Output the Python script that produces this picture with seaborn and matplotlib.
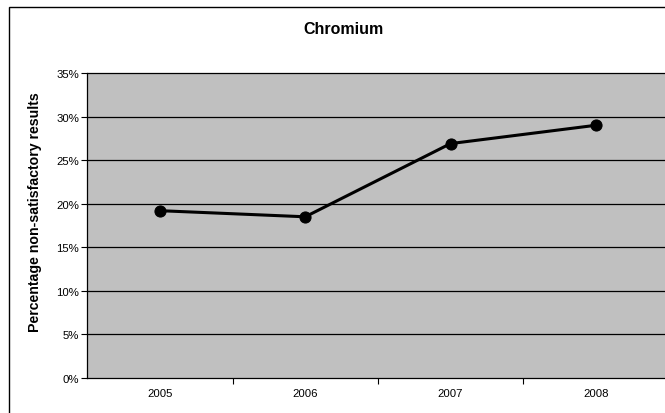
import matplotlib
matplotlib.use("Agg")
import matplotlib.pyplot as plt
import matplotlib.patches as patches
import seaborn as sns
import pandas as pd

# Data
years = ["2005", "2006", "2007", "2008"]
pct_nonsat = [19.2, 18.5, 26.9, 29.0]
y_ticks = [0, 5, 10, 15, 20, 25, 30, 35]

df = pd.DataFrame({"year": years, "pct": pct_nonsat})
df["pos"] = range(len(years))

sns.set_style("white")
plt.rcParams["font.family"] = ["Liberation Sans", "DejaVu Sans"]
plt.rcParams["text.color"] = "black"
plt.rcParams["xtick.color"] = "black"
plt.rcParams["ytick.color"] = "black"
plt.rcParams["xtick.labelcolor"] = "black"
plt.rcParams["ytick.labelcolor"] = "black"

fig = plt.figure(figsize=(6.65, 4.14), dpi=100)
ax = fig.add_axes([87.3 / 665, 35 / 414, (668.5 - 87.3) / 665, (379 - 74) / 414])

# outer chart border (cut off on right and bottom)
fig.patches.append(patches.Rectangle((9 / 665, -0.05), 1.0, 1 - 8 / 414 + 0.05,
                                     transform=fig.transFigure, fill=False,
                                     edgecolor="black", linewidth=1.0))

ax.set_facecolor("#C0C0C0")
for yt in y_ticks[1:]:
    ax.axhline(yt, color="black", linewidth=0.9, zorder=1, clip_on=False)

sns.lineplot(data=df, x="pos", y="pct", ax=ax, color="black", linewidth=2.2,
             marker="o", markersize=8, markeredgecolor="black", zorder=3)

ax.set_xlim(-0.5, len(years) - 0.5)
ax.set_ylim(0, 35)
ax.set_yticks(y_ticks)
ax.set_yticklabels([f"{t}%" for t in y_ticks], fontsize=8.2)
ax.set_xticks(range(len(years)))
ax.set_xticklabels(years, fontsize=8.2)
ax.tick_params(axis="x", which="major", bottom=True, length=0, pad=7)
ax.set_xticks([i + 0.5 for i in range(len(years) - 1)], minor=True)
ax.tick_params(axis="x", which="minor", bottom=True, length=4, width=0.8,
               color="black", direction="out")
ax.tick_params(axis="y", left=True, length=4, width=0.8, color="black",
               direction="out", pad=2)
ax.set_xlabel("")
ax.set_ylabel("")

for side in ["top", "right"]:
    ax.spines[side].set_visible(False)
for side in ["left", "bottom"]:
    ax.spines[side].set_color("black")
    ax.spines[side].set_linewidth(0.9)

fig.text(344 / 665, 1 - 30 / 414, "Chromium", ha="center", va="center",
         fontsize=11.5, fontweight="bold", color="black")
fig.text(35 / 665, 1 - 212 / 414, "Percentage non-satisfactory results",
         rotation=90, ha="center", va="center", fontsize=10.2, fontweight="bold",
         color="black")

fig.savefig("out.png", dpi=100)
